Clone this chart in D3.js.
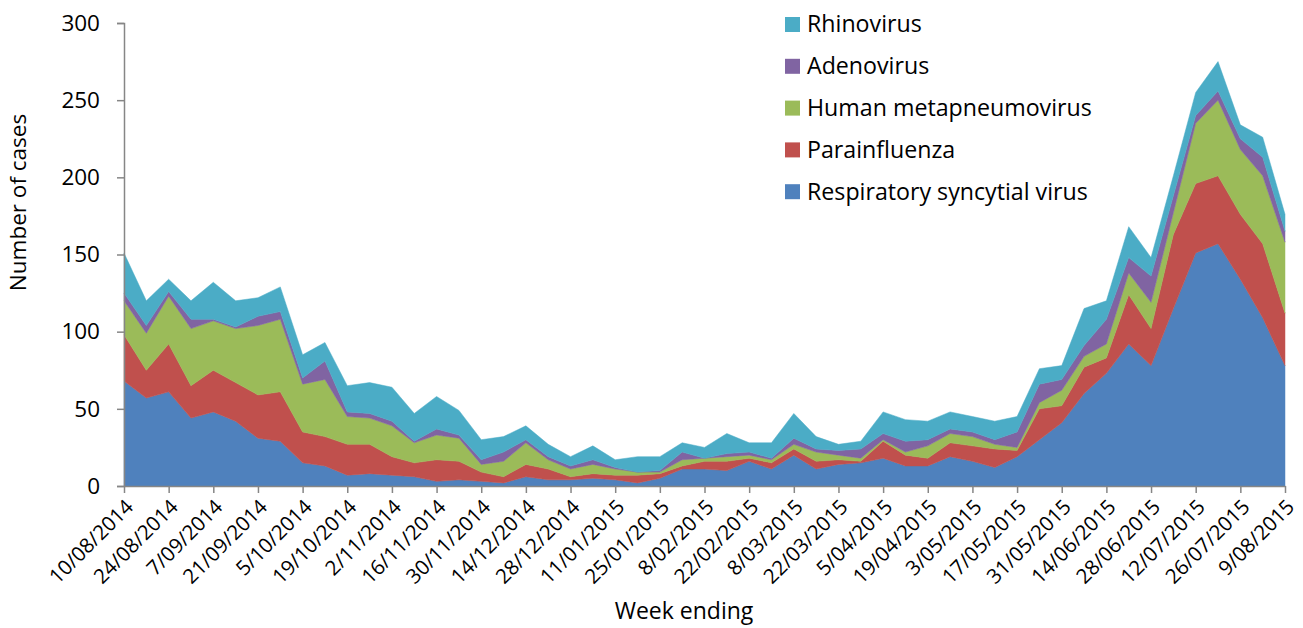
<!DOCTYPE html>
<html>
<head>
<meta charset="utf-8">
<script src="https://cdn.jsdelivr.net/npm/d3@7"></script>
<style>
  html, body { margin: 0; padding: 0; background: #fff; }
  svg { display: block; font-family: "Open Sans", sans-serif; }
</style>
</head>
<body>
<svg id="chart" width="1303" height="628"></svg>
<script>
const weeks = ["10/08/2014","17/08/2014","24/08/2014","31/08/2014","7/09/2014","14/09/2014","21/09/2014","28/09/2014","5/10/2014","12/10/2014","19/10/2014","26/10/2014","2/11/2014","9/11/2014","16/11/2014","23/11/2014","30/11/2014","7/12/2014","14/12/2014","21/12/2014","28/12/2014","4/01/2015","11/01/2015","18/01/2015","25/01/2015","1/02/2015","8/02/2015","15/02/2015","22/02/2015","1/03/2015","8/03/2015","15/03/2015","22/03/2015","29/03/2015","5/04/2015","12/04/2015","19/04/2015","26/04/2015","3/05/2015","10/05/2015","17/05/2015","24/05/2015","31/05/2015","7/06/2015","14/06/2015","21/06/2015","28/06/2015","5/07/2015","12/07/2015","19/07/2015","26/07/2015","2/08/2015","9/08/2015"];

const tickLabels = ["10/08/2014","24/08/2014","7/09/2014","21/09/2014","5/10/2014","19/10/2014","2/11/2014","16/11/2014","30/11/2014","14/12/2014","28/12/2014","11/01/2015","25/01/2015","8/02/2015","22/02/2015","8/03/2015","22/03/2015","5/04/2015","19/04/2015","3/05/2015","17/05/2015","31/05/2015","14/06/2015","28/06/2015","12/07/2015","26/07/2015","9/08/2015"];

const yTicks = [0, 50, 100, 150, 200, 250, 300];

const rsv   = [68,57,61,44,48,42,31,29,15,13, 7,8,7,6,3,4,3,2,6,4, 4,5,4,2,5,11,11,10,16,11, 20,11,14,15,18,13,13,19,16,12, 19,30,41,60,73,92,78,115,151,157, 134,109,78];
const para  = [30,18,31,21,27,25,28,32,20,19, 20,19,12,9,14,12,6,4,8,7, 2,3,3,5,3,2,5,6,2,4, 4,5,3,1,11,7,5,9,10,12, 4,20,11,17,10,32,24,48,45,44, 42,48,34];
const hmpv  = [22,24,31,37,32,35,45,47,31,37, 18,17,20,13,16,15,5,10,14,6, 5,6,4,2,1,4,2,3,2,2, 3,6,3,2,1,2,8,6,6,3, 2,4,10,7,9,14,17,14,39,49, 42,44,46];
const adeno = [5,5,3,6,1,1,6,5,4,12, 3,3,3,1,4,2,3,6,2,2, 2,3,1,0,1,5,0,2,2,1, 4,2,3,6,4,7,4,3,3,3, 10,12,7,7,16,10,17,11,5,6, 7,12,7];
const rhino = [26,16,8,12,24,17,12,16,15,12, 17,20,22,18,21,16,13,10,9,8, 6,9,5,10,9,6,7,13,6,10, 16,8,4,5,14,14,12,11,10,12, 10,10,9,24,12,20,12,13,15,19, 9,13,11];

const seriesNames = ["Respiratory syncytial virus","Parainfluenza","Human metapneumovirus","Adenovirus","Rhinovirus"];
const seriesValues = [rsv, para, hmpv, adeno, rhino];
const colors = ["#4F81BD","#C0504D","#9BBB59","#8064A2","#4BACC6"];

const table = weeks.map((w, i) => {
  const row = { week: w };
  seriesNames.forEach((n, k) => row[n] = seriesValues[k][i]);
  return row;
});

const svg = d3.select("#chart");
const plotLeft = 124, plotRight = 1285, plotTop = 23, plotBottom = 486;

const x = d3.scalePoint().domain(weeks).range([plotLeft, plotRight]);
const y = d3.scaleLinear().domain([0, 300]).range([plotBottom, plotTop]);

const stacked = d3.stack().keys(seriesNames)(table);
const area = d3.area()
  .x(d => x(d.data.week))
  .y0(d => y(d[0]))
  .y1(d => y(d[1]));

svg.append("g").selectAll("path")
  .data(stacked)
  .join("path")
  .attr("d", area)
  .attr("fill", (d, i) => colors[i])
  .attr("stroke", (d, i) => colors[i])
  .attr("stroke-width", 0.5);

// Y axis
const yAxis = svg.append("g")
  .attr("transform", `translate(${plotLeft},0)`)
  .call(d3.axisLeft(y).tickValues(yTicks).tickSize(7).tickPadding(17));
yAxis.select(".domain").attr("stroke", "#868686").attr("stroke-width", 1.5);
yAxis.selectAll(".tick line").attr("stroke", "#868686").attr("stroke-width", 1.5);
yAxis.selectAll("text").attr("font-size", 22.5).attr("fill", "#000")
  .attr("font-family", "Open Sans, sans-serif");

// X axis
const xAxis = svg.append("g")
  .attr("transform", `translate(0,${plotBottom})`)
  .call(d3.axisBottom(x).tickValues(tickLabels).tickSize(7).tickSizeOuter(0));
xAxis.select(".domain").attr("stroke", "#868686").attr("stroke-width", 1.5);
xAxis.selectAll(".tick line").attr("stroke", "#868686").attr("stroke-width", 1.5);
xAxis.selectAll("text")
  .attr("font-size", 20.5).attr("fill", "#000")
  .attr("font-family", "Open Sans, sans-serif")
  .attr("text-anchor", "end")
  .attr("dy", "0.35em")
  .attr("y", 0)
  .attr("transform", "translate(5,17) rotate(-45)");

// Axis titles
svg.append("text")
  .attr("transform", `translate(26,${(plotTop + plotBottom) / 2 - 52}) rotate(-90)`)
  .attr("text-anchor", "middle")
  .attr("font-size", 22.5)
  .text("Number of cases");

svg.append("text")
  .attr("x", 684)
  .attr("y", 619)
  .attr("text-anchor", "middle")
  .attr("font-size", 23)
  .text("Week ending");

// Legend (top to bottom: reverse stack order)
const legendItems = seriesNames.map((n, i) => ({ name: n, color: colors[i] })).reverse();
const legend = svg.append("g").attr("transform", "translate(785,17)");
const li = legend.selectAll("g").data(legendItems).join("g")
  .attr("transform", (d, i) => `translate(0,${i * 41.8})`);
li.append("rect").attr("width", 15).attr("height", 15).attr("fill", d => d.color);
li.append("text").attr("x", 22).attr("y", 7).attr("dy", "0.36em")
  .attr("font-size", 23.2).text(d => d.name);
</script>
</body>
</html>
